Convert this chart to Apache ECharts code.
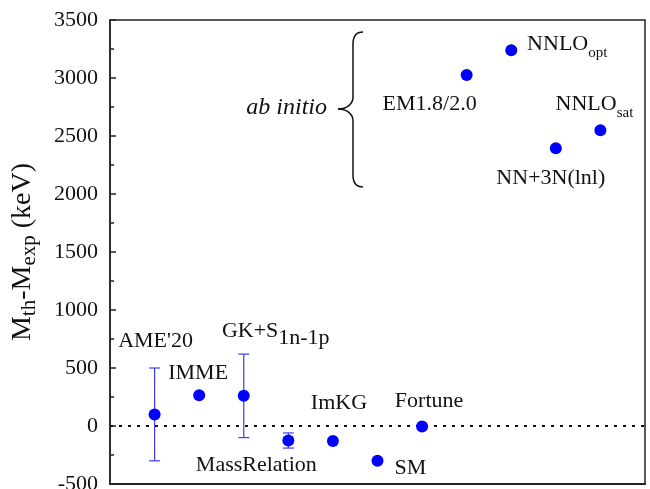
<!DOCTYPE html>
<html>
<head>
<meta charset="utf-8">
<script src="https://cdn.jsdelivr.net/npm/echarts@6/dist/echarts.min.js"></script>
<style>
  html, body { margin: 0; padding: 0; background: #fff; }
  #chart { width: 650px; height: 489px; }
</style>
</head>
<body>
<div id="chart"></div>
<script>
// Mass models; "_" marks where a subscript begins
const models = ["AME'20", "IMME", "GK+S_1n-1p", "MassRelation", "ImKG", "SM", "Fortune",
                "EM1.8/2.0", "NNLO_opt", "NN+3N(lnl)", "NNLO_sat"];
// M_th - M_exp in keV
const deltaM = [100, 265, 260, -125, -130, -300, -5, 3025, 3240, 2395, 2550];
// Uncertainties in keV (null = none shown)
const errM = [400, null, 360, 65, null, null, null, null, null, null, null];
// Y axis ticks
const yTicks = [-500, 0, 500, 1000, 1500, 2000, 2500, 3000, 3500];

const FONT = "'Liberation Serif', 'Times New Roman', serif";

// label placement around each point: [dx, dy] from the marker centre, and subscript style
const labelLayout = {
  "AME'20":       { off: [1, -73] },
  "IMME":         { off: [-1, -22] },
  "GK+S_1n-1p":   { off: [32, -65], sub: "g" },
  "MassRelation": { off: [-32, 25] },
  "ImKG":         { off: [6, -38] },
  "SM":           { off: [33, 7] },
  "Fortune":      { off: [7, -25] },
  "EM1.8/2.0":    { off: [-37, 29] },
  "NNLO_opt":     { off: [56, -6], sub: "s" },
  "NN+3N(lnl)":   { off: [-5, 30] },
  "NNLO_sat":     { off: [-6, -26], sub: "s" }
};

function richLabel(name) {
  const parts = name.split("_");
  const lay = labelLayout[name] || {};
  if (parts.length === 1) return "{m|" + parts[0] + "}";
  return "{m|" + parts[0] + "}{" + (lay.sub || "s") + "|" + parts[1] + "}";
}

const richStyles = {
  m: { fontFamily: FONT, fontSize: 22, color: "#111" },
  s: { fontFamily: FONT, fontSize: 15, color: "#111", padding: [18, 0, 0, 0] },
  g: { fontFamily: FONT, fontSize: 22, color: "#111", padding: [14, 0, 0, 0] }
};

const pointData = models.map((name, i) => {
  const lay = labelLayout[name] || { off: [0, 0] };
  return {
    name: name,
    value: [i + 1, deltaM[i]],
    label: {
      show: true,
      position: "inside",
      offset: lay.off,
      fontFamily: FONT,
      fontSize: 22,
      color: "#111",
      formatter: richLabel(name),
      rich: richStyles
    }
  };
});

const errData = [];
models.forEach((name, i) => {
  if (errM[i] != null) errData.push([i + 1, deltaM[i] - errM[i], deltaM[i] + errM[i]]);
});

// curly brace grouping the ab initio results
const braceStyle = { stroke: "#111", lineWidth: 1.5, fill: null };
function bez(x1, y1, cpx1, cpy1, cpx2, cpy2, x2, y2) {
  return { type: "bezierCurve", shape: { x1, y1, cpx1, cpy1, cpx2, cpy2, x2, y2 }, style: braceStyle };
}
function seg(x1, y1, x2, y2) {
  return { type: "line", shape: { x1, y1, x2, y2 }, style: braceStyle };
}

const chart = echarts.init(document.getElementById("chart"), null, { renderer: "canvas" });

chart.setOption({
  animation: false,
  backgroundColor: "#fff",
  textStyle: { fontFamily: FONT },
  grid: {
    left: 110, right: 5, top: 20, bottom: 5,
    outerBoundsMode: "none",
    containLabel: false,
    show: true, borderColor: "#222", borderWidth: 1.5, backgroundColor: "transparent"
  },
  xAxis: {
    type: "value", min: 0, max: 12,
    axisLine: { show: true, onZero: false, lineStyle: { color: "#222", width: 2 } },
    axisTick: { show: false }, axisLabel: { show: false }, splitLine: { show: false }
  },
  yAxis: {
    type: "value",
    min: yTicks[0], max: yTicks[yTicks.length - 1], interval: 500,
    name: "{m|M}{s|th}{m|-M}{s|exp}{m| (keV)}",
    nameLocation: "middle",
    nameGap: 70,
    nameTextStyle: {
      fontFamily: FONT,
      rich: {
        m: { fontFamily: FONT, fontSize: 28, color: "#111" },
        s: { fontFamily: FONT, fontSize: 21, color: "#111", padding: [14, 0, 0, 0] }
      }
    },
    axisLine: { show: true, lineStyle: { color: "#222", width: 1.5 } },
    axisTick: { show: true, inside: true, length: 6, lineStyle: { color: "#222", width: 1.5 } },
    minorTick: { show: true, splitNumber: 2, length: 4, lineStyle: { color: "#222", width: 1.5 } },
    axisLabel: {
      fontFamily: FONT, fontSize: 22, color: "#111", margin: 12,
      formatter: function (v) { return String(v); }
    },
    splitLine: { show: false }
  },
  series: [
    {
      name: "uncertainty",
      type: "custom",
      z: 2,
      data: errData,
      encode: { x: 0, y: [1, 2] },
      renderItem: function (params, api) {
        const x = api.value(0);
        const lo = api.coord([x, api.value(1)]);
        const hi = api.coord([x, api.value(2)]);
        const cap = 5.5;
        const style = { stroke: "#3a3aff", lineWidth: 1.2, fill: null };
        return {
          type: "group",
          children: [
            { type: "line", shape: { x1: lo[0], y1: lo[1], x2: hi[0], y2: hi[1] }, style: style },
            { type: "line", shape: { x1: lo[0] - cap, y1: lo[1], x2: lo[0] + cap, y2: lo[1] }, style: style },
            { type: "line", shape: { x1: hi[0] - cap, y1: hi[1], x2: hi[0] + cap, y2: hi[1] }, style: style }
          ]
        };
      }
    },
    {
      name: "models",
      type: "scatter",
      z: 3,
      symbol: "circle",
      symbolSize: 12,
      itemStyle: { color: "#0000ff", opacity: 1 },
      data: pointData,
      markLine: {
        silent: true,
        symbol: ["none", "none"],
        label: { show: false },
        lineStyle: { color: "#111", type: [3, 6], width: 2 },
        data: [{ yAxis: 0 }],
        z: 1
      }
    }
  ],
  graphic: [
    {
      type: "text",
      x: 327, y: 108,
      style: {
        text: "ab initio",
        font: "italic 24px 'Liberation Serif'",
        fill: "#111",
        textAlign: "right",
        textVerticalAlign: "middle"
      }
    },
    {
      type: "group",
      children: [
        bez(363, 32, 356, 32, 353, 36, 353, 44),
        seg(353, 44, 353, 97),
        bez(353, 97, 353, 104, 347, 109, 338, 109),
        bez(338, 109, 347, 109, 353, 114, 353, 121),
        seg(353, 121, 353, 175),
        bez(353, 175, 353, 183, 356, 187, 363, 187)
      ]
    }
  ]
});
</script>
</body>
</html>
